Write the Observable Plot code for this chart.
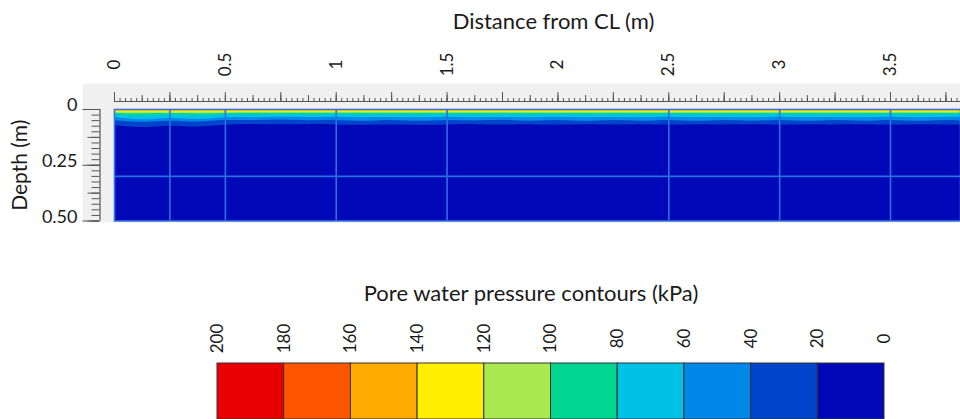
<!DOCTYPE html>
<html><head><meta charset="utf-8">
<script src="https://cdn.jsdelivr.net/npm/d3@7"></script>
<script src="https://cdn.jsdelivr.net/npm/@observablehq/plot@0.6"></script>
<style>
html,body{margin:0;padding:0;overflow:hidden;background:#fff;width:960px;height:419px}
svg{display:block}
</style></head><body>
<div id="chart"></div><div id="legend"></div>
<script>
// ---- data ----
const xTickLabels = [0, 0.5, 1, 1.5, 2, 2.5, 3, 3.5];
const yTickLabels = [0, 0.25, 0.5];
const yTickText = ["0", "0.25", "0.50"];
const meshX = [0.25, 0.5, 1, 1.5, 2.5, 3, 3.5];
const meshY = [0.3];

const profileX = [0,0.125,0.25,0.375,0.5,0.625,0.75,0.875,1,1.125,1.25,1.375,1.5,1.625,1.75,1.875,2,2.125,2.25,2.375,2.5,2.625,2.75,2.875,3,3.125,3.25,3.375,3.5,3.625,3.75,3.875];
// depth (m) of each pore-pressure contour along the section
const d20  = [0.072,0.086,0.070,0.083,0.068,0.066,0.070,0.067,0.069,0.071,0.068,0.071,0.069,0.067,0.070,0.068,0.071,0.067,0.070,0.068,0.071,0.068,0.070,0.067,0.071,0.068,0.070,0.067,0.071,0.068,0.070,0.069];
const d40  = [0.050,0.062,0.048,0.060,0.046,0.052,0.045,0.053,0.046,0.056,0.045,0.057,0.046,0.055,0.045,0.056,0.046,0.057,0.046,0.056,0.045,0.057,0.046,0.056,0.045,0.057,0.046,0.056,0.045,0.057,0.046,0.055];
const d60  = [0.036,0.052,0.035,0.050,0.034,0.038,0.034,0.037,0.033,0.038,0.034,0.039,0.033,0.038,0.034,0.039,0.033,0.038,0.034,0.039,0.033,0.038,0.034,0.039,0.033,0.038,0.034,0.039,0.033,0.038,0.034,0.037];
const d80  = [0.024,0.032,0.024,0.030,0.023,0.025,0.023,0.025,0.023,0.025,0.023,0.025,0.023,0.025,0.023,0.025,0.023,0.025,0.023,0.025,0.023,0.025,0.023,0.025,0.023,0.025,0.023,0.025,0.023,0.025,0.023,0.024];
const d100 = [0.017,0.020,0.017,0.020,0.017,0.017,0.017,0.017,0.017,0.017,0.017,0.017,0.017,0.017,0.017,0.017,0.017,0.017,0.017,0.017,0.017,0.017,0.017,0.017,0.017,0.017,0.017,0.017,0.017,0.017,0.017,0.017];
const d120 = [0.012,0.013,0.012,0.013,0.012,0.012,0.012,0.012,0.012,0.012,0.012,0.012,0.012,0.012,0.012,0.012,0.012,0.012,0.012,0.012,0.012,0.012,0.012,0.012,0.012,0.012,0.012,0.012,0.012,0.012,0.012,0.012];
const d140 = [0.006,0.006,0.006,0.006,0.006,0.006,0.006,0.006,0.006,0.006,0.006,0.006,0.006,0.006,0.006,0.006,0.006,0.006,0.006,0.006,0.006,0.006,0.006,0.006,0.006,0.006,0.006,0.006,0.006,0.006,0.006,0.006];
const d160 = [0.0025,0.0025,0.0025,0.0025,0.0025,0.0025,0.0025,0.0025,0.0025,0.0025,0.0025,0.0025,0.0025,0.0025,0.0025,0.0025,0.0025,0.0025,0.0025,0.0025,0.0025,0.0025,0.0025,0.0025,0.0025,0.0025,0.0025,0.0025,0.0025,0.0025,0.0025,0.0025];

const legendTicks = [200,180,160,140,120,100,80,60,40,20,0];
const bandLow  = [180,160,140,120,100,80,60,40,20,0];
const bandColors = ["#e80000","#ff5500","#ffaa00","#ffee00","#aaea50","#00d690","#00c2e6","#0088e8","#0044cc","#0008b8"];

// ---- build ----
const colorOf = lo => bandColors[bandLow.indexOf(lo)];
const profile = profileX.map((x, i) => ({x, d20: d20[i], d40: d40[i], d60: d60[i], d80: d80[i], d100: d100[i], d120: d120[i], d140: d140[i], d160: d160[i]}));
const contourLevels = [20, 40, 60, 80, 100, 120, 140, 160];
const minorX = d3.range(0, 3.83, 0.025);
const medX = d3.range(0, 3.83, 0.125);
const majX = d3.range(0, 3.83, 0.25);
const minorY = d3.range(0, 0.501, 0.025);
const medY = d3.range(0, 0.501, 0.125);
const majY = d3.range(0, 0.501, 0.25);

const FONT = "Lato";
const txt = "#1a1a1a";
const tickCol = "#555";
const noText = () => "";

const main = Plot.plot({
  width: 960, height: 240,
  marginLeft: 114, marginRight: 0, marginTop: 109, marginBottom: 19.5,
  style: {fontFamily: FONT, fontSize: "17px", color: txt, background: "transparent"},
  x: {domain: [0, 3.8157]},
  y: {domain: [0, 0.5], reverse: true},
  marks: [
    Plot.frame({fill: "#f0f0f0", insetLeft: -32, insetTop: -26, insetBottom: -1.5, insetRight: -5}),
    Plot.frame({fill: colorOf(0)}),
    ...contourLevels.map(k => Plot.areaY(profile, {x: "x", y1: 0, y2: "d" + k, fill: colorOf(k), curve: "basis", clip: true})),
    Plot.ruleX(meshX, {stroke: "#2d6fe2", strokeWidth: 1.6}),
    Plot.ruleY(meshY, {stroke: "#2d6fe2", strokeWidth: 1.6}),
    Plot.frame({stroke: "#3a72e4", strokeWidth: 1.6}),
    // top axis
    Plot.ruleY([0], {dy: -8, stroke: tickCol, strokeWidth: 1.2}),
    Plot.axisX({anchor: "top", ticks: minorX, tickSize: 4, tickFormat: noText, label: null, dy: -8, stroke: tickCol}),
    Plot.axisX({anchor: "top", ticks: medX, tickSize: 7, tickFormat: noText, label: null, dy: -8, stroke: tickCol}),
    Plot.axisX({anchor: "top", ticks: majX, tickSize: 10, tickFormat: noText, label: null, dy: -8, stroke: tickCol}),
    Plot.text(xTickLabels, {x: d => d, frameAnchor: "top", dy: -45, rotate: -90, textAnchor: "middle", lineAnchor: "middle", fill: txt, fontSize: 17}),
    Plot.text(["Distance from CL (m)"], {frameAnchor: "top", dx: 16, dy: -88, textAnchor: "middle", lineAnchor: "middle", fill: txt, fontSize: 22}),
    // left axis
    Plot.ruleX([0], {dx: -14.5, stroke: tickCol, strokeWidth: 1.2}),
    Plot.axisY({anchor: "left", ticks: minorY, tickSize: 8, tickFormat: noText, label: null, dx: -14.5, stroke: tickCol}),
    Plot.axisY({anchor: "left", ticks: medY, tickSize: 12, tickFormat: noText, label: null, dx: -14.5, stroke: tickCol}),
    Plot.axisY({anchor: "left", ticks: majY, tickSize: 17, tickFormat: noText, label: null, dx: -14.5, stroke: tickCol}),
    Plot.text(yTickLabels, {y: d => d, text: (d, i) => yTickText[i], frameAnchor: "left", dx: -37, dy: -4, textAnchor: "end", lineAnchor: "middle", fill: txt, fontSize: 18}),
    Plot.text(["Depth (m)"], {frameAnchor: "left", dx: -94, rotate: -90, textAnchor: "middle", lineAnchor: "middle", fill: txt, fontSize: 21})
  ]
});
document.getElementById("chart").append(main);

const bands = bandLow.map((lo, i) => ({hi: lo + 20, lo, color: bandColors[i]}));
const legend = Plot.plot({
  width: 960, height: 179,
  marginLeft: 217, marginRight: 76, marginTop: 123, marginBottom: 0,
  style: {fontFamily: FONT, fontSize: "17px", color: txt, background: "transparent"},
  x: {domain: [200, 0], axis: null},
  marks: [
    Plot.rect(bands, {x1: "hi", x2: "lo", fill: "color", stroke: "#333", strokeWidth: 1}),
    Plot.text(legendTicks, {x: d => d, frameAnchor: "top", dy: -25, rotate: -90, textAnchor: "middle", lineAnchor: "middle", fill: txt, fontSize: 17}),
    Plot.text(["Pore water pressure contours (kPa)"], {frameAnchor: "top", dx: -20, dy: -70, textAnchor: "middle", lineAnchor: "middle", fill: txt, fontSize: 22})
  ]
});
document.getElementById("legend").append(legend);
</script>
</body></html>
